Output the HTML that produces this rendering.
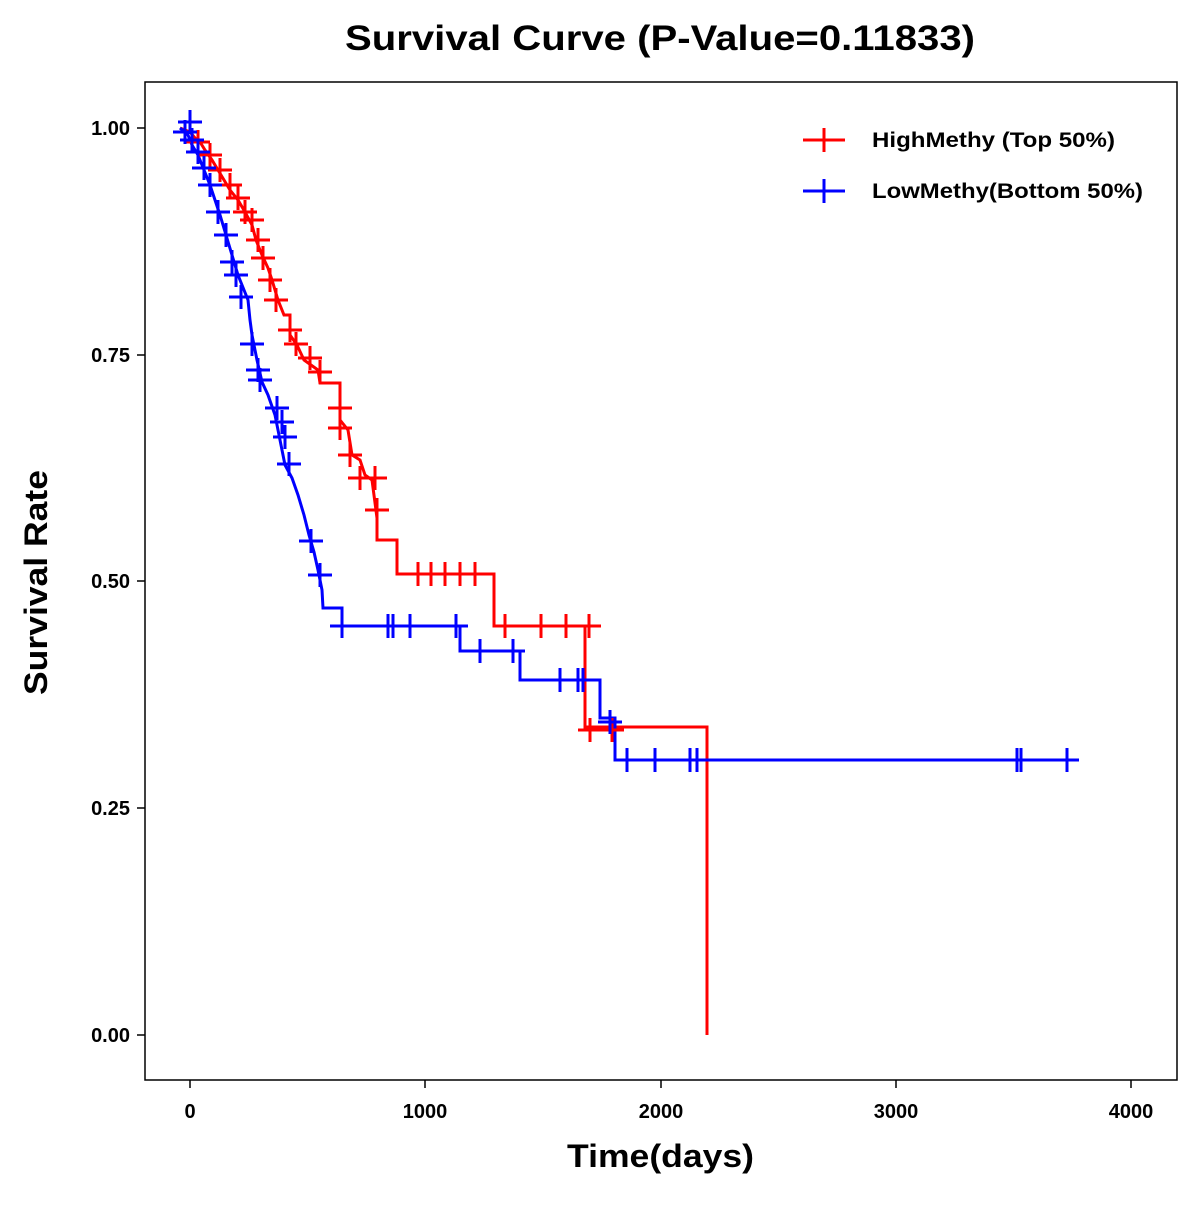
<!DOCTYPE html>
<html><head><style>body{margin:0;background:#fff}</style></head><body>
<svg width="1200" height="1200" xmlns="http://www.w3.org/2000/svg" font-family="Liberation Sans, Arial, sans-serif" font-weight="bold">
<defs>
<path id="pr" d="M-12,0H12M0,-12V12" stroke="#f00" stroke-width="3"/>
<path id="pb" d="M-12,0H12M0,-12V12" stroke="#00f" stroke-width="3"/>
</defs>
<text x="345" y="50" font-size="35" textLength="630" lengthAdjust="spacingAndGlyphs">Survival Curve (P-Value=0.11833)</text>
<rect x="145" y="82" width="1032" height="998" fill="none" stroke="#000" stroke-width="1.5"/>
<g stroke="#000" stroke-width="1.5">
<line x1="190" y1="1080" x2="190" y2="1088"/><line x1="425" y1="1080" x2="425" y2="1088"/><line x1="661" y1="1080" x2="661" y2="1088"/><line x1="896" y1="1080" x2="896" y2="1088"/><line x1="1131" y1="1080" x2="1131" y2="1088"/>
<line x1="137" y1="128" x2="145" y2="128"/><line x1="137" y1="355" x2="145" y2="355"/><line x1="137" y1="581" x2="145" y2="581"/><line x1="137" y1="808" x2="145" y2="808"/><line x1="137" y1="1035" x2="145" y2="1035"/>
</g>
<g font-size="20" text-anchor="middle">
<text x="190" y="1118">0</text><text x="425" y="1118">1000</text><text x="661" y="1118">2000</text><text x="896" y="1118">3000</text><text x="1131" y="1118">4000</text>
</g>
<g font-size="20" text-anchor="end">
<text x="130" y="135">1.00</text><text x="130" y="362">0.75</text><text x="130" y="588">0.50</text><text x="130" y="815">0.25</text><text x="130" y="1042">0.00</text>
</g>
<text x="567" y="1167" font-size="32" textLength="187" lengthAdjust="spacingAndGlyphs">Time(days)</text>
<text transform="translate(47,695) rotate(-90)" font-size="32" textLength="225" lengthAdjust="spacingAndGlyphs">Survival Rate</text>
<polyline fill="none" stroke="#f00" stroke-width="3" points="180,128 190,132 195,138 200,142 205,150 212,160 218,170 224,180 230,190 238,200 245,212 252,225 256,240 262,255 268,268 272,280 278,300 284,315 290,315 290,335 297,345 304,360 318,370 320,383 340,383 340,420 348,430 352,455 360,460 365,475 372,480 377,518 377,540 397,540 397,574 494,574 494,626 585,626 585,727 707,727 707,1035"/>
<polyline fill="none" stroke="#00f" stroke-width="3" points="180,128 188,135 192,145 198,155 204,170 210,185 215,200 220,215 226,235 232,255 238,275 244,290 248,300 250,320 252,335 257,360 262,382 268,395 275,415 280,440 285,465 292,478 298,495 304,515 309,535 314,552 318,570 322,590 323,608 342,608 342,626 460,626 460,651 520,651 520,680 600,680 600,718 615,718 615,760 1068,760"/>
<g>
<use href="#pr" x="185" y="132"/><use href="#pr" x="198" y="142"/><use href="#pr" x="210" y="155"/><use href="#pr" x="220" y="170"/><use href="#pr" x="230" y="185"/><use href="#pr" x="238" y="198"/><use href="#pr" x="245" y="212"/><use href="#pr" x="252" y="220"/><use href="#pr" x="258" y="240"/><use href="#pr" x="263" y="258"/><use href="#pr" x="270" y="280"/><use href="#pr" x="276" y="300"/><use href="#pr" x="290" y="330"/><use href="#pr" x="296" y="344"/><use href="#pr" x="310" y="358"/><use href="#pr" x="320" y="372"/><use href="#pr" x="340" y="408"/><use href="#pr" x="340" y="428"/><use href="#pr" x="350" y="455"/><use href="#pr" x="360" y="478"/><use href="#pr" x="375" y="478"/><use href="#pr" x="377" y="510"/>
<use href="#pr" x="418" y="574"/><use href="#pr" x="431" y="574"/><use href="#pr" x="445" y="574"/><use href="#pr" x="460" y="574"/><use href="#pr" x="475" y="574"/>
<use href="#pr" x="505" y="626"/><use href="#pr" x="541" y="626"/><use href="#pr" x="566" y="626"/><use href="#pr" x="589" y="626"/><use href="#pr" x="590" y="730"/><use href="#pr" x="612" y="730"/>
</g>
<g>
<use href="#pb" x="190" y="122"/><use href="#pb" x="185" y="132"/><use href="#pb" x="192" y="140"/><use href="#pb" x="198" y="152"/><use href="#pb" x="204" y="168"/><use href="#pb" x="210" y="185"/><use href="#pb" x="218" y="212"/><use href="#pb" x="226" y="235"/><use href="#pb" x="232" y="262"/><use href="#pb" x="236" y="275"/><use href="#pb" x="241" y="297"/><use href="#pb" x="252" y="344"/><use href="#pb" x="258" y="370"/><use href="#pb" x="260" y="380"/><use href="#pb" x="277" y="408"/><use href="#pb" x="282" y="422"/><use href="#pb" x="285" y="437"/><use href="#pb" x="289" y="464"/><use href="#pb" x="311" y="541"/><use href="#pb" x="320" y="575"/>
<use href="#pb" x="342" y="626"/><use href="#pb" x="388" y="626"/><use href="#pb" x="393" y="626"/><use href="#pb" x="410" y="626"/><use href="#pb" x="456" y="626"/>
<use href="#pb" x="480" y="651"/><use href="#pb" x="513" y="651"/><use href="#pb" x="560" y="680"/><use href="#pb" x="578" y="680"/><use href="#pb" x="583" y="680"/><use href="#pb" x="610" y="722"/>
<use href="#pb" x="627" y="760"/><use href="#pb" x="655" y="760"/><use href="#pb" x="690" y="760"/><use href="#pb" x="697" y="760"/><use href="#pb" x="1017" y="760"/><use href="#pb" x="1021" y="760"/><use href="#pb" x="1067" y="760"/>
</g>
<line x1="803" y1="140" x2="845" y2="140" stroke="#f00" stroke-width="3"/><line x1="824" y1="128" x2="824" y2="152" stroke="#f00" stroke-width="3"/>
<line x1="803" y1="191" x2="845" y2="191" stroke="#00f" stroke-width="3"/><line x1="824" y1="179" x2="824" y2="203" stroke="#00f" stroke-width="3"/>
<text x="872" y="147" font-size="21" textLength="243" lengthAdjust="spacingAndGlyphs">HighMethy (Top 50%)</text>
<text x="872" y="198" font-size="21" textLength="271" lengthAdjust="spacingAndGlyphs">LowMethy(Bottom 50%)</text>
</svg>
</body></html>
